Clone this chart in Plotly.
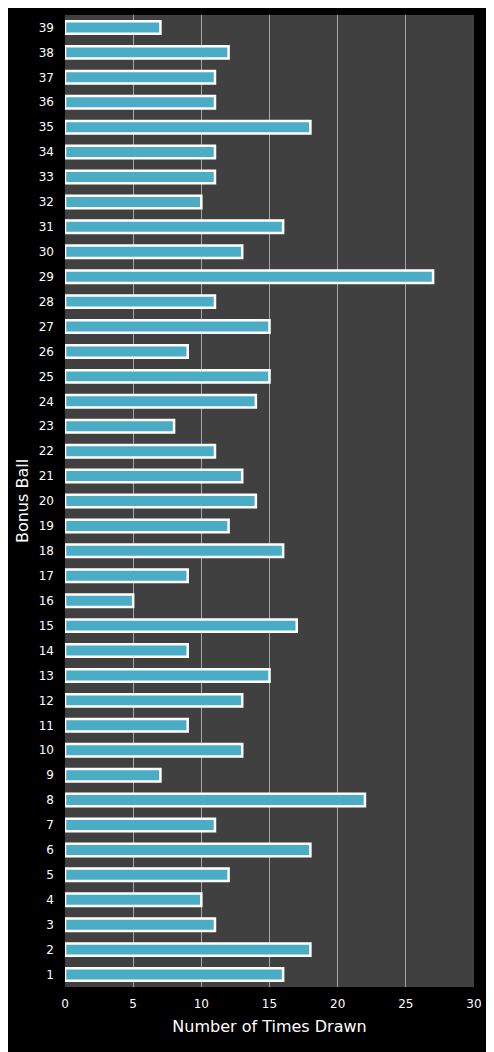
import plotly.graph_objects as go

balls = list(range(1, 40))
times_drawn = [16, 18, 11, 10, 12, 18, 11, 22, 7, 13,
               9, 13, 15, 9, 17, 5, 9, 16, 12, 14,
               13, 11, 8, 14, 15, 9, 15, 11, 27, 13,
               16, 10, 11, 11, 18, 11, 11, 12, 7]

fig = go.Figure()
fig.add_trace(go.Bar(
    x=times_drawn,
    y=[str(b) for b in balls],
    orientation="h",
    width=0.5,
    marker=dict(color="#4BACC6", line=dict(color="#FFFFFF", width=2.5)),
))

# page body adds an 8px offset, so the figure is a bit smaller
fig.update_layout(
    width=486,
    height=1044,
    paper_bgcolor="#000000",
    plot_bgcolor="#404040",
    margin=dict(l=57, r=20, t=7, b=65),
    font=dict(family="DejaVu Sans", color="#FFFFFF", size=12),
    showlegend=False,
)
fig.update_xaxes(
    range=[0, 30],
    dtick=5,
    showgrid=True,
    gridcolor="#A6A6A6",
    gridwidth=1,
    zeroline=False,
    ticks="",
    ticklabelstandoff=8,
    title=dict(text="Number of Times Drawn", font=dict(size=16), standoff=10),
)
fig.update_yaxes(
    type="category",
    showgrid=False,
    ticks="",
    ticklabelstandoff=10,
    title=dict(text="Bonus Ball", font=dict(size=16), standoff=6),
)

fig.write_html("out.html")
